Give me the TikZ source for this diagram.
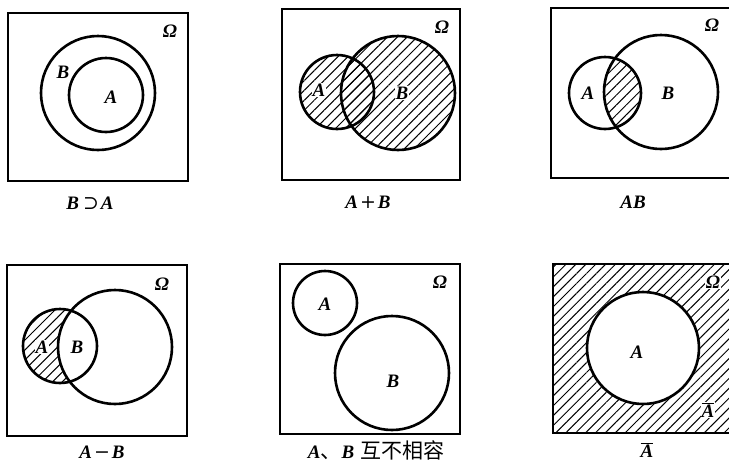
\documentclass[tikz,border=0pt]{standalone}
\usepackage{fontspec}
\setmainfont{Liberation Serif}
\newfontfamily\cjk{Noto Sans CJK SC}
\newfontfamily\supfont{DejaVu Serif}
\usetikzlibrary{patterns.meta}

\tikzset{
  frame/.style={line width=1.6pt},
  set/.style={line width=2.6pt},
  hatch/.style={pattern={Lines[angle=45,distance=7pt,line width=1pt]}},
  lab/.style={font=\fontsize{19}{22}\selectfont\bfseries\itshape, inner sep=0.6pt},
  caption/.style={font=\fontsize{19}{22}\selectfont\bfseries\itshape, inner sep=0pt}
}
\newcommand{\cmpl}[1]{$\overline{\hbox{#1}}$}
\newcommand{\op}[1]{{\mdseries\upshape\supfont #1}}

\begin{document}
\begin{tikzpicture}[x=1pt,y=-1pt]

\useasboundingbox (0,0) rectangle (729,464);
\fill[white] (0,0) rectangle (729,464);

% B contains A
\draw[frame] (8,13) rectangle (188,181);
\draw[set] (98,93) circle(57);
\draw[set] (106,95) circle(37);
\node[lab] (om1) at (170,31) {Ω};
\node[lab] (b1) at (63,72) {B};
\node[lab] (a1) at (111,97) {A};
\node[caption] (c1) at (90,203) {B\hspace{4pt}\op{⊃}\hspace{2pt}A};

% A+B
\draw[frame] (282,9) rectangle (460,180);
\fill[hatch] (337,92) circle(37);
\fill[hatch] (398,93) circle(57);
\draw[set] (337,92) circle(37);
\draw[set] (398,93) circle(57);
\node[lab] (om2) at (442,27) {Ω};
\node[lab,fill=white] (a2) at (319,90) {A};
\node[lab,fill=white] (b2) at (402,93) {B};
\node[caption] (c2) at (368,202) {A\hspace{2pt}\op{+}\hspace{2pt}B};

% AB
\draw[frame] (731,8) -- (551,8) -- (551,178) -- (731,178);
\begin{scope}
\clip (605,93) circle(36);
\fill[hatch] (661,92) circle(57);
\end{scope}
\draw[set] (605,93) circle(36);
\draw[set] (661,92) circle(57);
\node[lab] (om3) at (712,25) {Ω};
\node[lab] (a3) at (588,93) {A};
\node[lab] (b3) at (668,93) {B};
\node[caption] (c3) at (633,202) {AB};

% A-B
\draw[frame] (7,265) rectangle (187,436);
\begin{scope}
\clip (60,346) circle(37);
\fill[hatch,even odd rule] (60,346) circle(37) (115,347) circle(57);
\end{scope}
\draw[set] (60,346) circle(37);
\draw[set] (115,347) circle(57);
\node[lab] (om4) at (162,284) {Ω};
\node[lab,fill=white] (a4) at (42,347) {A};
\node[lab] (b4) at (77,347) {B};
\node[caption] (c4) at (102,452) {A\hspace{2pt}\op{−}\hspace{2pt}B};

% disjoint
\draw[frame] (280,264) rectangle (460,434);
\draw[set] (325,303) circle(32);
\draw[set] (392,373) circle(57);
\node[lab] (om5) at (440,282) {Ω};
\node[lab] (a5) at (325,304) {A};
\node[lab] (b5) at (393,381) {B};
\node[caption] (c5) at (376,450) {A{\mdseries\upshape\cjk\fontsize{21}{22}\selectfont 、}B\hspace{6pt}{\mdseries\upshape\cjk\fontsize{21}{22}\selectfont 互不相容}};

% complement
\fill[hatch,even odd rule] (553,264) rectangle (731,433) (643,348) circle(56);
\draw[frame] (731,264) -- (553,264) -- (553,433) -- (731,433);
\draw[set] (643,348) circle(56);
\node[lab,fill=white] (om6) at (713,282) {Ω};
\node[lab] (a6) at (637,352) {A};
\node[lab,fill=white] (ab6) at (708,410) {\cmpl{A}};
\node[caption] (c6) at (647,450) {\cmpl{A}};

\end{tikzpicture}
\end{document}
